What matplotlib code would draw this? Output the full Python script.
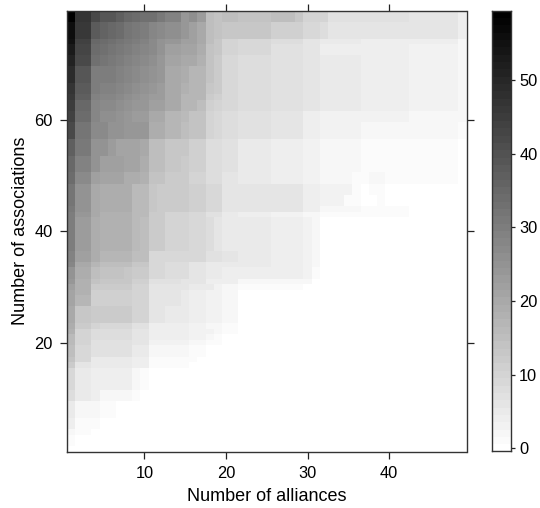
import numpy as np
import matplotlib
matplotlib.use('Agg')
import matplotlib.pyplot as plt
from matplotlib.colors import ListedColormap, BoundaryNorm

plt.rcParams['font.family'] = ['Liberation Sans', 'DejaVu Sans']

n_alliances = 49
n_associations = 79
x_label = 'Number of alliances'
y_label = 'Number of associations'
x_ticks = [10, 20, 30, 40]
y_ticks = [20, 40, 60]
bar_ticks = [0, 10, 20, 30, 40, 50]

# Each band: lowest association count in band, then (last alliance column, value) runs.
bands = [
 (78, [(1,59),(3,47),(4,42),(6,39),(7,37),(8,35),(9,34),(11,33),(12,31),(14,29),(15,24),(16,26),(17,23),(18,15),(19,14),(21,15),(25,14),(28,15),(29,13),(32,10),(42,7),(48,6),(49,4)]),
 (75, [(1,56),(3,46),(4,38),(5,36),(6,35),(7,34),(8,32),(9,31),(10,30),(11,28),(12,27),(14,26),(15,24),(16,22),(17,20),(18,15),(19,14),(25,13),(29,11),(31,9),(32,8),(48,6),(49,4)]),
 (74, [(1,55),(3,44),(4,35),(5,34),(6,33),(7,32),(8,31),(9,30),(10,29),(11,27),(12,25),(14,24),(16,22),(17,20),(18,15),(19,13),(21,10),(25,9),(29,8),(31,6),(36,5),(48,4),(49,2)]),
 (72, [(1,53),(3,43),(4,34),(5,33),(6,32),(7,31),(8,30),(9,29),(10,28),(11,27),(12,25),(14,22),(16,21),(17,19),(18,14),(19,13),(21,10),(25,9),(29,7),(31,6),(42,4),(48,3),(49,2)]),
 (70, [(1,51),(3,42),(4,33),(5,32),(6,31),(7,30),(8,29),(9,28),(10,27),(11,26),(12,24),(14,21),(16,20),(17,18),(18,14),(19,12),(21,9),(25,8),(29,7),(31,6),(36,5),(42,4),(48,3),(49,2)]),
 (67, [(1,49),(3,39),(6,30),(7,29),(8,28),(9,27),(10,26),(11,25),(12,24),(14,20),(15,19),(17,17),(18,14),(19,12),(21,9),(25,8),(29,7),(31,6),(36,5),(42,4),(48,3),(49,2)]),
 (65, [(1,47),(3,38),(4,30),(6,29),(7,28),(8,27),(9,26),(10,25),(11,24),(12,23),(14,20),(15,18),(17,17),(18,13),(19,12),(21,9),(25,8),(29,7),(31,6),(36,5),(42,4),(48,3),(49,2)]),
 (64, [(1,46),(3,37),(4,29),(6,28),(7,27),(8,26),(9,25),(10,24),(12,23),(14,20),(17,17),(18,12),(19,11),(21,9),(25,8),(29,7),(31,6),(36,5),(42,4),(48,3),(49,2)]),
 (62, [(1,45),(3,35),(4,28),(6,27),(7,26),(8,25),(10,24),(12,22),(14,20),(16,17),(17,15),(18,11),(19,10),(21,9),(25,8),(29,7),(31,6),(36,5),(42,4),(48,3),(49,2)]),
 (60, [(1,44),(3,34),(4,28),(6,26),(7,25),(8,24),(10,23),(12,20),(14,17),(15,16),(17,14),(18,10),(19,9),(21,8),(25,7),(29,6),(31,4),(42,3),(48,2),(49,2)]),
 (57, [(1,42),(3,32),(5,27),(7,25),(10,24),(12,19),(14,17),(15,15),(17,14),(18,10),(19,9),(21,8),(25,7),(29,6),(31,4),(36,3),(48,2),(49,1)]),
 (54, [(1,37),(3,31),(5,25),(6,23),(9,21),(10,20),(12,15),(15,13),(17,11),(19,8),(21,7),(25,5),(29,4),(31,3),(36,2),(48,1),(49,0)]),
 (51, [(1,35),(3,29),(4,25),(7,22),(9,21),(10,19),(12,15),(14,13),(15,12),(17,11),(19,8),(21,7),(25,5),(29,4),(31,3),(36,2),(48,1),(49,0)]),
 (49, [(1,34),(3,27),(4,22),(7,21),(9,19),(10,18),(12,14),(15,12),(17,10),(19,8),(21,6),(25,5),(29,4),(31,3),(35,2),(37,1),(39,2),(48,1),(49,0)]),
 (47, [(1,32),(3,25),(4,20),(8,19),(10,16),(11,13),(15,12),(17,11),(19,9),(29,6),(31,4),(35,3),(36,1),(37,0),(39,1),(49,0)]),
 (45, [(1,32),(3,25),(4,20),(8,19),(10,16),(11,13),(15,12),(17,11),(19,9),(29,6),(31,4),(34,3),(36,1),(38,0),(39,1),(49,0)]),
 (44, [(1,31),(3,25),(4,20),(8,19),(10,16),(11,13),(15,12),(17,11),(19,9),(29,6),(31,4),(36,2),(42,1),(49,0)]),
 (43, [(1,30),(3,24),(4,20),(8,18),(10,16),(12,12),(15,10),(17,9),(19,7),(21,5),(25,4),(29,3),(31,2),(42,1),(49,0)]),
 (37, [(1,30),(3,23),(4,19),(8,18),(9,16),(10,15),(12,12),(14,10),(15,10),(17,9),(18,8),(19,6),(25,5),(29,4),(30,3),(31,2),(49,0)]),
 (35, [(1,29),(3,22),(4,19),(8,17),(10,15),(17,9),(19,7),(21,6),(25,5),(29,4),(30,3),(31,2),(49,0)]),
 (34, [(1,28),(3,20),(4,17),(8,15),(10,13),(12,9),(15,8),(17,6),(25,5),(29,4),(30,3),(31,2),(49,0)]),
 (32, [(1,25),(3,19),(4,15),(7,14),(8,13),(10,12),(12,9),(15,8),(17,6),(19,5),(29,4),(30,3),(31,1),(49,0)]),
 (31, [(1,24),(3,18),(4,14),(8,13),(10,11),(14,7),(17,6),(21,4),(30,2),(49,0)]),
 (30, [(1,22),(3,18),(8,12),(10,10),(15,6),(18,5),(19,3),(21,2),(29,1),(49,0)]),
 (29, [(1,21),(3,18),(8,11),(10,10),(14,6),(15,5),(17,4),(19,3),(21,2),(49,0)]),
 (27, [(1,21),(3,17),(8,11),(10,10),(14,6),(15,5),(17,4),(19,3),(21,2),(49,0)]),
 (24, [(1,20),(3,13),(8,12),(10,10),(12,6),(15,5),(17,4),(19,3),(21,2),(49,0)]),
 (23, [(1,19),(3,12),(4,10),(8,9),(10,7),(15,4),(17,3),(19,2),(21,1),(49,0)]),
 (22, [(1,18),(3,10),(8,8),(10,6),(15,4),(17,3),(18,3),(19,2),(21,1),(49,0)]),
 (21, [(1,16),(3,10),(8,8),(10,6),(15,4),(17,3),(18,2),(19,1),(49,0)]),
 (20, [(1,16),(3,10),(8,7),(10,6),(15,3),(17,2),(19,1),(49,0)]),
 (18, [(1,15),(3,9),(8,7),(10,5),(15,2),(17,1),(49,0)]),
 (17, [(1,14),(3,9),(8,5),(10,4),(16,1),(49,0)]),
 (16, [(1,12),(3,6),(8,5),(10,4),(15,1),(49,0)]),
 (12, [(1,9),(3,5),(8,4),(9,2),(10,1),(49,0)]),
 (10, [(1,8),(3,5),(4,4),(8,2),(9,1),(49,0)]),
 (7,  [(1,5),(4,2),(6,1),(49,0)]),
 (5,  [(1,4),(4,1),(49,0)]),
 (4,  [(1,2),(3,1),(49,0)]),
 (2,  [(1,1),(49,0)]),
 (1,  [(49,0)]),
]

counts = np.zeros((n_associations, n_alliances))
top = n_associations
for low, runs in bands:
    start = 0
    row = np.zeros(n_alliances)
    for last, val in runs:
        row[start:last] = val
        start = last
    counts[low - 1:top, :] = row
    top = low - 1

W, H = 540, 508
fig = plt.figure(figsize=(W / 100, H / 100), dpi=100, facecolor='white')

def box(l, t, r, b):
    return [l / W, 1 - b / H, (r - l) / W, (b - t) / H]

levels = np.arange(-0.5, 60.5, 1)
cmap = ListedColormap(plt.cm.gray(np.linspace(1, 0, 60)))
norm = BoundaryNorm(levels, 60)

ax = fig.add_axes(box(67, 11, 466.5, 451.5))
xe = np.arange(0.5, n_alliances + 1)
ye = np.arange(0.56, n_associations + 1)
mesh = ax.pcolormesh(xe, ye, counts, cmap=cmap, norm=norm, linewidth=0, rasterized=True)
ax.set_xlim(0.5, 49.5)
ax.set_ylim(0.56, 79.5)
ax.set_xticks(x_ticks)
ax.set_yticks(y_ticks)
ax.tick_params(axis='both', which='both', direction='out', length=4.7, width=0.9,
               top=True, right=True, labelsize=11.8, color='#222222', pad=5.5)
for s in ax.spines.values():
    s.set_linewidth(1.0)
    s.set_color('#333333')
ax.set_xlabel(x_label, fontsize=13, labelpad=5)
ax.set_ylabel(y_label, fontsize=13, labelpad=4)

cax = fig.add_axes(box(491.5, 10.5, 510.5, 451))
grad = (levels[:-1] + 0.5)[:, None]
cax.pcolormesh([0, 1], levels, grad, cmap=cmap, norm=norm, linewidth=0, rasterized=True)
cax.set_ylim(-0.4, 59.5)
cax.set_xticks([])
cax.yaxis.tick_right()
cax.set_yticks(bar_ticks)
cax.tick_params(axis='y', direction='out', length=2.8, width=0.9, labelsize=11.8, pad=3.5, color='#222222')
for s in cax.spines.values():
    s.set_linewidth(1.0)
    s.set_color('#333333')

fig.savefig('out.png', dpi=100, facecolor='white')
